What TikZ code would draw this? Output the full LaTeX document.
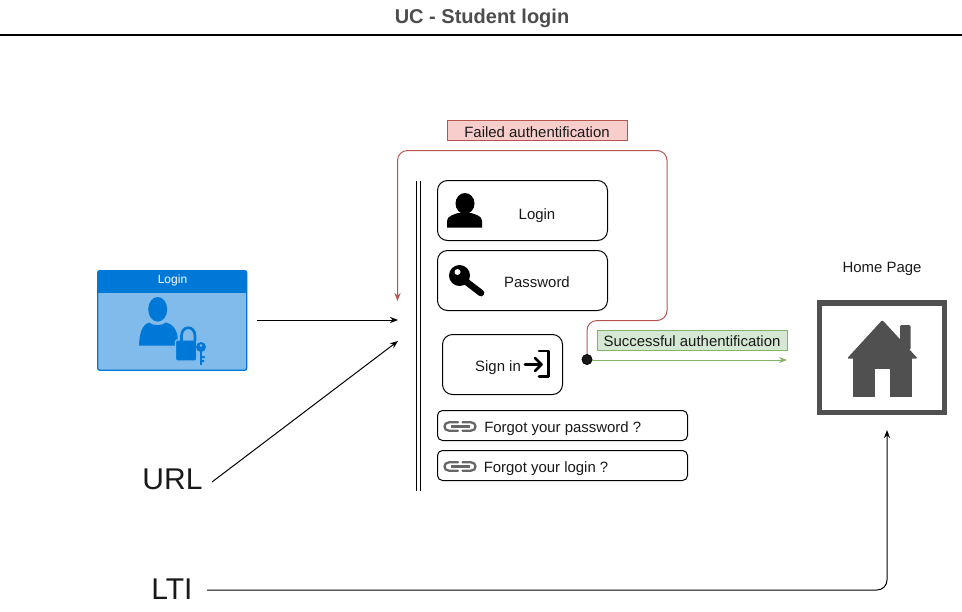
\documentclass[tikz,border=0pt]{standalone}
\usepackage{fontspec}
\setmainfont{Liberation Sans}
\usetikzlibrary{arrows.meta}
\definecolor{azblue}{HTML}{0078D7}
\definecolor{azlight}{HTML}{80BBEB}
\definecolor{hgrey}{HTML}{505050}
\definecolor{redline}{HTML}{B85450}
\definecolor{redfill}{HTML}{F8CECC}
\definecolor{greenline}{HTML}{82B366}
\definecolor{greenfill}{HTML}{D5E8D4}
\definecolor{titlegrey}{HTML}{4D4D4D}
\definecolor{linkgrey}{HTML}{666666}
\tikzset{
  formbox/.style={draw=black,rounded corners=7.5pt,line width=0.75pt,fill=white,anchor=north west,inner sep=0pt,outer sep=0pt},
  linkbox/.style={draw=black,rounded corners=3.75pt,line width=0.75pt,fill=white,anchor=north west,inner sep=0pt,outer sep=0pt},
  txt/.style={font=\fontsize{11.2}{13}\selectfont,text=black!90,inner sep=0pt,text height=8pt,text depth=2pt},
  bigtxt/.style={font=\fontsize{22.5}{26}\selectfont,text=black!90,inner sep=0pt},
  arrowline/.style={line width=0.75pt,-{Stealth[length=6pt,width=4.6pt]}},
  statusbox/.style={draw=#1line,fill=#1fill,line width=0.75pt,inner sep=0pt,outer sep=0pt,anchor=north west}
}
\begin{document}
\begin{tikzpicture}[x=0.75pt,y=-0.75pt]
\useasboundingbox (0,0) rectangle (962,611);
% title
\node[font=\bfseries\fontsize{15}{18}\selectfont,text=titlegrey,inner sep=0pt] (title) at (482,18.5) {UC - Student login};
\coordinate (tl) at (0,35); \coordinate (tr) at (962,35);
\draw[line width=1.5pt,black] (tl) -- (tr);
% login panel
\node[draw=azblue,fill=azlight,rounded corners=1.5pt,line width=1pt,minimum width=111.75pt,minimum height=74.6pt,inner sep=0pt,outer sep=0pt,anchor=north west] (panel) at (97.7,270.7) {};
\fill[azblue,rounded corners=1.5pt] (97.7,270.7) rectangle (246.7,292.7);
\fill[azblue] (97.7,285) rectangle (246.7,292.7);
\node[font=\fontsize{9}{11}\selectfont,text=white,inner sep=0pt] (paneltitle) at (172.5,280) {Login};
\fill[azblue] (157.7,309.3) ellipse (9.5 and 12.3);
\fill[azblue] (139,345.5) .. controls (139.5,333) and (142,325) .. (149,322.5) .. controls (153,326) and (162,326) .. (166,322.5) .. controls (172,324) and (176,328) .. (177.5,336) -- (177.5,345.5) -- cycle;
\draw[azlight,line width=1pt,fill=azblue,rounded corners=1pt] (175.5,340) rectangle (196.7,361);
\draw[azblue,line width=2pt] (181.5,341) -- (181.5,336) .. controls (181.5,325) and (195,325) .. (195,336) -- (195,341);
\fill[azblue] (201,347) circle (5);
\fill[azlight] (201,345.5) circle (1.4);
\fill[azblue] (199.8,350) rectangle (202.2,364.5);
\fill[azblue] (202,356) rectangle (204.5,358) (202,360) rectangle (204,362);
% double line
\coordinate (d1a) at (416,181); \coordinate (d1b) at (416,491);
\coordinate (d2a) at (420,181); \coordinate (d2b) at (420,491);
\draw[line width=0.75pt] (d1a) -- (d1b);
\draw[line width=0.75pt] (d2a) -- (d2b);
% form boxes
\node[formbox,minimum width=127.5pt,minimum height=45pt] (login) at (437.5,180.5) {};
\node[txt] (logintxt) at (537,215) {Login};
\node[formbox,minimum width=127.5pt,minimum height=45pt] (pass) at (437.5,250.5) {};
\node[txt] (passtxt) at (537,283) {Password};
\node[formbox,minimum width=90pt,minimum height=45pt] (signin) at (442.5,334.5) {};
\node[txt] (signintxt) at (498,367) {Sign in};
\node[linkbox,minimum width=187.5pt,minimum height=22.5pt] (forgotp) at (437.5,410.5) {};
\node[txt,anchor=west] (forgotptxt) at (484,428) {Forgot your password ?};
\node[linkbox,minimum width=187.5pt,minimum height=22.5pt] (forgotl) at (437.5,450.5) {};
\node[txt,anchor=west] (forgotltxt) at (483.5,468) {Forgot your login ?};
% user icon
\fill[black] (465,203.5) ellipse (9.5 and 10.5);
\fill[black] (447,227.5) -- (447,221) .. controls (447,216) and (454,214.5) .. (458,213) -- (471,213) .. controls (476,214.5) and (482,216) .. (482,221) -- (482,227.5) -- cycle;
% key icon
\fill[black] (459.5,275.5) circle (10.5);
\fill[white] (457.5,272) circle (3);
\draw[black,line width=5pt,line cap=round] (464,280) -- (481,293);
% sign in icon
\draw[black,line width=1.9pt,line cap=round,line join=round] (525,364.5) -- (541.5,364.5);
\draw[black,line width=1.9pt,line cap=round,line join=round] (535,358) -- (541.5,364.5) -- (535,371);
\draw[black,line width=1.9pt,line cap=round,line join=round] (539,351) -- (548.5,351) -- (548.5,376.5) -- (539,376.5);
% link icons
\foreach \yy in {426.5,466.5}{
  \draw[linkgrey,line width=1.7pt,line cap=round] (458,\yy-4.2) -- (449,\yy-4.2) .. controls (443,\yy-4.2) and (443,\yy+4.2) .. (449,\yy+4.2) -- (458,\yy+4.2);
  \draw[linkgrey,line width=1.7pt,line cap=round] (462.5,\yy-4.2) -- (471,\yy-4.2) .. controls (477,\yy-4.2) and (477,\yy+4.2) .. (471,\yy+4.2) -- (462.5,\yy+4.2);
  \draw[linkgrey,line width=1.7pt] (451,\yy) -- (470,\yy);
}
% home icon
\node[txt] (hometxt) at (882,268) {Home Page};
\node[draw=hgrey,line width=4.1pt,fill=white,minimum width=93.75pt,minimum height=82.1pt,inner sep=0pt,outer sep=0pt,anchor=north west] (home) at (819.7,303) {};
\fill[hgrey,rounded corners=1pt] (900,325) rectangle (910.5,350);
\fill[hgrey,rounded corners=1pt] (847,358.5) -- (882.3,320) -- (917.7,358.5) -- cycle;
\fill[hgrey] (852.7,357) rectangle (912.3,397.3);
\fill[white] (875,369.3) rectangle (890,397.8);
% statuses
\node[statusbox=red,minimum width=135pt,minimum height=15pt] (fail) at (447.5,120.5) {};
\node[txt] (failtxt) at (537,133) {Failed authentification};
\node[statusbox=green,minimum width=142.5pt,minimum height=15pt] (succ) at (597.5,330) {};
\node[txt] (succtxt) at (692,342) {Successful authentification};
% decision dot
\node[circle,fill=black!90,draw=black,minimum size=7.5pt,inner sep=0pt] (dot) at (587,359.5) {};
\coordinate (fa) at (397.5,301);
\coordinate (sa) at (787,360);
\draw[redline,line width=0.75pt,rounded corners=7.5pt,-{Stealth[length=6pt,width=4.6pt]}] (dot.center) -- (587,320.5) -- (667,320.5) -- (667,150.5) -- (397.5,150.5) -- (fa);
\draw[greenline,arrowline] (587,360) -- (sa);
\node[circle,fill=black!90,draw=black,minimum size=7.5pt,inner sep=0pt] at (dot) {};
% entry arrows
\coordinate (p1) at (257,320); \coordinate (w1) at (398,320);
\draw[arrowline] (p1) -- (w1);
\node[bigtxt] (url) at (172.5,479) {URL};
\coordinate (u1) at (212,482); \coordinate (w2) at (398,341);
\draw[arrowline] (u1) -- (w2);
\node[bigtxt] (lti) at (172,589) {LTI};
\coordinate (l1) at (207,590); \coordinate (h1) at (887,430);
\draw[arrowline,rounded corners=7.5pt] (l1) -- (887,590) -- (h1);
\end{tikzpicture}
\end{document}
